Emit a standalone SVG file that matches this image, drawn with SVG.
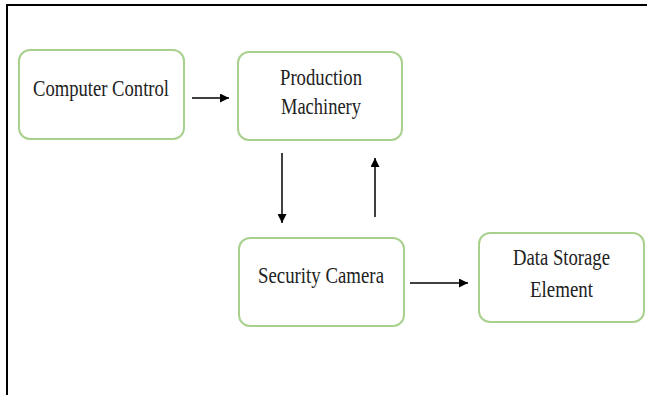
<svg xmlns="http://www.w3.org/2000/svg" width="647" height="395" viewBox="0 0 647 395">
<style>
.box{fill:#fff;stroke:#a9d18e;stroke-width:2}
.lbl{font-family:"Liberation Serif","Times New Roman",serif;font-size:24px;fill:#222;text-anchor:middle}
.con{stroke:#000;stroke-width:1.5;fill:none;marker-end:url(#ah)}
</style>
<defs>
<marker id="ah" viewBox="0 0 10 10" refX="10" refY="5" markerWidth="6" markerHeight="6" markerUnits="strokeWidth" orient="auto">
<path d="M0,0 L10,5 L0,10 z" fill="#000"/>
</marker>
</defs>
<rect x="0" y="0" width="647" height="395" fill="#fff"/>
<path d="M7,395 V5 H647" fill="none" stroke="#000" stroke-width="2"/>
<g id="computer-control">
<rect class="box" x="19" y="50" width="165" height="89" rx="11"/>
<text class="lbl" x="101" y="96" textLength="136" lengthAdjust="spacingAndGlyphs">Computer Control</text>
</g>
<g id="production-machinery">
<rect class="box" x="238" y="52" width="164" height="88" rx="11"/>
<text class="lbl" x="321" y="85" textLength="82" lengthAdjust="spacingAndGlyphs">Production</text>
<text class="lbl" x="321" y="114" textLength="80" lengthAdjust="spacingAndGlyphs">Machinery</text>
</g>
<g id="security-camera">
<rect class="box" x="239" y="238" width="165" height="88" rx="11"/>
<text class="lbl" x="321" y="283" textLength="126" lengthAdjust="spacingAndGlyphs">Security Camera</text>
</g>
<g id="data-storage-element">
<rect class="box" x="479" y="233" width="165" height="89" rx="11"/>
<text class="lbl" x="561.5" y="265" textLength="97" lengthAdjust="spacingAndGlyphs">Data Storage</text>
<text class="lbl" x="561.5" y="297" textLength="63" lengthAdjust="spacingAndGlyphs">Element</text>
</g>
<g id="connectors">
<line class="con" x1="192" y1="98" x2="229" y2="98"/>
<line class="con" x1="282" y1="153" x2="282" y2="223"/>
<line class="con" x1="375" y1="217" x2="375" y2="158"/>
<line class="con" x1="410" y1="283" x2="468" y2="283"/>
</g>
</svg>
